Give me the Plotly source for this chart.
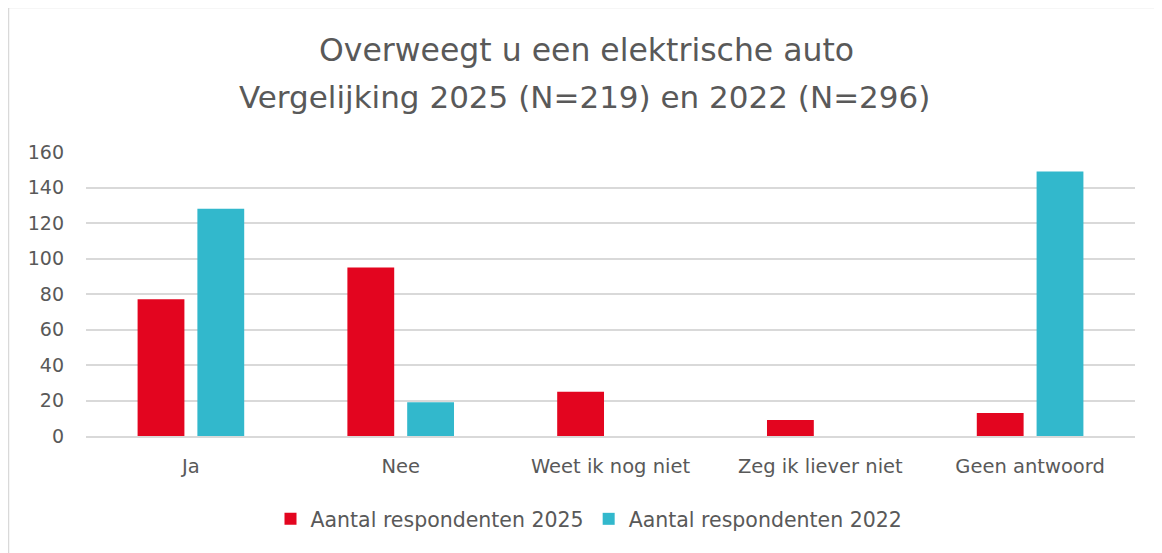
import plotly.graph_objects as go

categories = ["Ja", "Nee", "Weet ik nog niet", "Zeg ik liever niet", "Geen antwoord"]
values_2025 = [77, 95, 25, 9, 13]
values_2022 = [128, 19, 0, 0, 149]
series_names = ["Aantal respondenten 2025", "Aantal respondenten 2022"]
title_lines = ["Overweegt u een elektrische auto", "Vergelijking 2025 (N=219) en 2022 (N=296)"]
y_ticks = [0, 20, 40, 60, 80, 100, 120, 140, 160]

FONT = "DejaVu Sans"
GREY = "#595959"

fig = go.Figure()
fig.add_trace(go.Bar(x=categories, y=values_2025, name=series_names[0],
                     marker=dict(color="#E3051F", line=dict(width=0))))
fig.add_trace(go.Bar(x=categories, y=values_2022, name=series_names[1],
                     marker=dict(color="#32B8CC", line=dict(width=0))))

OFF = 8  # page body margin
W, H = 1162 - OFF, 553 - OFF
L, R, T, B = 86 - OFF, W - (1135 - OFF), 152 - OFF, H - (436 - OFF)
pw, ph = W - L - R, H - T - B

def px(sx):
    return (sx - OFF - L) / pw

def py(sy):
    return (H - B - (sy - OFF)) / ph

fig.update_layout(
    width=W, height=H,
    margin=dict(l=L, r=R, t=T, b=B, pad=0),
    paper_bgcolor="white", plot_bgcolor="white",
    barmode="group", bargap=0.43, bargroupgap=0.217,
    font=dict(family=FONT, color=GREY, size=19),
    showlegend=True,
    legend=dict(orientation="h", x=px(589), xanchor="center", y=py(519), yanchor="middle",
                font=dict(size=20.5, color=GREY, family=FONT), itemsizing="constant",
                traceorder="normal", itemwidth=30),
    xaxis=dict(showgrid=False, showline=True, linecolor="#d9d9d9", linewidth=1.5,
               ticks="", tickfont=dict(size=19.5, color=GREY), ticklabelstandoff=12),
    yaxis=dict(range=[0, 160], tickvals=y_ticks, showgrid=True, gridcolor="#d9d9d9",
               gridwidth=1.5, zeroline=False, showline=False, ticks="",
               tickfont=dict(size=19, color=GREY), ticklabelstandoff=21),
    shapes=[dict(type="rect", xref="paper", yref="paper",
                 x0=px(8.5), x1=px(1175), y0=py(570), y1=py(7.5),
                 line=dict(color="#d9d9d9", width=1.5), fillcolor="rgba(0,0,0,0)", layer="below")],
    annotations=[
        dict(text=title_lines[0], xref="paper", yref="paper", x=px(586), y=py(50),
             xanchor="center", yanchor="middle", showarrow=False,
             font=dict(size=31.5, color=GREY, family=FONT)),
        dict(text=title_lines[1], xref="paper", yref="paper", x=px(584), y=py(97),
             xanchor="center", yanchor="middle", showarrow=False,
             font=dict(size=31, color=GREY, family=FONT)),
    ],
)

fig.write_html("out.html")
